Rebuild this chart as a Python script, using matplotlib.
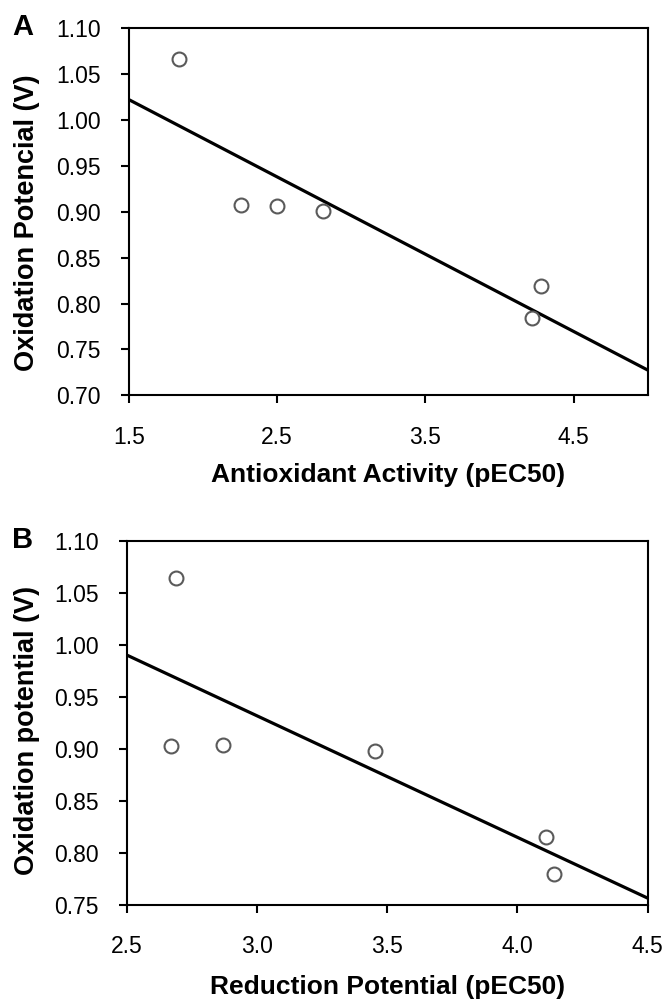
import numpy as np
import matplotlib
matplotlib.use("Agg")
import matplotlib.pyplot as plt

plt.rcParams['font.family'] = ['Liberation Sans', 'DejaVu Sans']

# Panel A data: antioxidant activity vs oxidation potential
antiox_pec50 = [1.84, 2.26, 2.50, 2.81, 4.22, 4.28]
oxpot_a = [1.066, 0.907, 0.906, 0.901, 0.784, 0.819]

# Panel B data: reduction potential vs oxidation potential
reduct_pec50 = [2.69, 2.67, 2.87, 3.455, 4.11, 4.14]
oxpot_b = [1.064, 0.903, 0.904, 0.898, 0.815, 0.780]

xticks_a = [1.5, 2.5, 3.5, 4.5]
yticks_a = [0.70, 0.75, 0.80, 0.85, 0.90, 0.95, 1.00, 1.05, 1.10]
xticks_b = [2.5, 3.0, 3.5, 4.0, 4.5]
yticks_b = [0.75, 0.80, 0.85, 0.90, 0.95, 1.00, 1.05, 1.10]


def draw_panel(ax, x, y, xlim, ylim, xticks, yticks, xlabel, ylabel,
               ylab_pos, xlab_y):
    # regression line across the whole x range
    slope, intercept = np.polyfit(x, y, 1)
    xs = np.array(xlim)
    ax.plot(xs, slope * xs + intercept, color='black', lw=2.3, zorder=2)
    ax.scatter(x, y, s=100, facecolors='white', edgecolors='#5a5a5a',
               linewidths=1.5, zorder=3, clip_on=False)
    ax.set_xlim(xlim)
    ax.set_ylim(ylim)
    ax.set_xticks(xticks)
    ax.set_yticks(yticks)
    ax.set_xticklabels([f'{t:.1f}' for t in xticks])
    ax.set_yticklabels([f'{t:.2f}' for t in yticks])
    ax.tick_params(direction='out', length=6, width=1.5, labelsize=16.5,
                   pad=14)
    ax.tick_params(axis='x', pad=16)
    for sp in ax.spines.values():
        sp.set_linewidth(1.5)
    ax.set_xlabel(xlabel, fontsize=19, fontweight='bold', va='center')
    ax.set_ylabel(ylabel, fontsize=19.5, fontweight='bold', va='center')
    ax.xaxis.set_label_coords(0.5, xlab_y)
    ax.yaxis.set_label_coords(*ylab_pos)


fig = plt.figure(figsize=(6.67, 10.01), dpi=100)
ax_a = fig.add_axes([0.193, 0.605, 0.778, 0.367])
ax_b = fig.add_axes([0.190, 0.096, 0.781, 0.364])

draw_panel(ax_a, antiox_pec50, oxpot_a, (1.5, 5.0), (0.70, 1.10),
           xticks_a, yticks_a, 'Antioxidant Activity (pEC50)',
           'Oxidation Potencial (V)', (-0.196, 0.47), -0.216)
draw_panel(ax_b, reduct_pec50, oxpot_b, (2.5, 4.5), (0.75, 1.10),
           xticks_b, yticks_b, 'Reduction Potential (pEC50)',
           'Oxidation potential (V)', (-0.191, 0.48), -0.225)

fig.text(0.018, 0.973, 'A', fontsize=21, fontweight='bold', va='center')
fig.text(0.018, 0.461, 'B', fontsize=21, fontweight='bold', va='center')

fig.savefig('out.png', dpi=100, facecolor='white')
